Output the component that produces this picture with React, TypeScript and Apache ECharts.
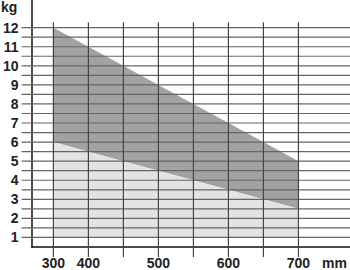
import React, { useEffect, useRef } from "react";
import * as echarts from "echarts";

// Data
const categories = ["300", "400", "450", "500", "550", "600", "650", "700"];
const upperValues = [12, 11, 10, 9, 8, 7, 6, 5];
const lowerValues = [6, 5.5, 5, 4.5, 4, 3.5, 3, 2.5];
const baseValue = 1;
const xLabelIndices = [0, 1, 3, 5, 7];
const yTickLabels = [1, 2, 3, 4, 5, 6, 7, 8, 9, 10, 11, 12];
const hGridValues = [1, 1.5, 2, 2.5, 3, 3.5, 4, 4.5, 5, 5.5, 6, 6.5, 7, 7.5, 8, 8.5, 9, 9.5, 10, 10.5, 11, 11.5, 12];
const vGridIndices = [0, 1, 2, 3, 4, 5, 6, 7];
const xUnit = "mm";
const yUnit = "kg";

const X_MIN = -0.6235;
const X_MAX = 8.473;
const Y_MIN = 0.5;
const Y_MAX = 13.45;
const V_TOP = 12.28;

const FONT = "'Liberation Sans', Arial, Helvetica, sans-serif";

export default function App() {
  const ref = useRef<HTMLDivElement>(null);
  useEffect(() => {
    if (!ref.current) return;
    const chart = echarts.init(ref.current, null, { renderer: "svg" });
    chart.setOption({
      animation: false,
      backgroundColor: "#ffffff",
      grid: { left: 29, right: 0, top: 0, bottom: 21, containLabel: false },
      xAxis: {
        type: "value",
        min: X_MIN,
        max: X_MAX,
        axisLine: { show: true, onZero: false, lineStyle: { color: "#111", width: 1.5 } },
        axisTick: { show: false },
        splitLine: { show: false },
        axisLabel: {
          customValues: xLabelIndices,
          formatter: (v: number) => categories[Math.round(v)] ?? "",
          margin: 9,
          fontSize: 14,
          fontWeight: "bold",
          fontFamily: FONT,
          color: "#222",
        },
      },
      yAxis: {
        type: "value",
        min: Y_MIN,
        max: Y_MAX,
        axisLine: { show: true, onZero: false, lineStyle: { color: "#111", width: 1.5 } },
        axisTick: { show: false },
        splitLine: { show: false },
        axisLabel: {
          customValues: yTickLabels,
          formatter: (v: number) => String(v),
          margin: 13,
          fontSize: 14,
          fontWeight: "bold",
          fontFamily: FONT,
          color: "#222",
        },
      },
      graphic: [
        {
          type: "text",
          left: 1,
          top: 0,
          style: { text: yUnit, fontSize: 14, fontWeight: "bold", fontFamily: FONT, fill: "#222" },
        },
        {
          type: "text",
          left: 322,
          top: 256,
          style: { text: xUnit, fontSize: 14, lineHeight: 14, fontWeight: "bold", fontFamily: FONT, fill: "#222" },
        },
      ],
      series: [
        {
          type: "custom",
          z: 1,
          silent: true,
          clip: false,
          data: [[0, 0]],
          renderItem: (_params: any, api: any) => {
            const upper = upperValues.map((v, i) => api.coord([i, v]));
            const lower = lowerValues.map((v, i) => api.coord([i, v]));
            const base = lowerValues.map((_v, i) => api.coord([i, baseValue]));
            return {
              type: "group",
              children: [
                {
                  type: "polygon",
                  shape: { points: [...upper, ...lower.slice().reverse()] },
                  style: { fill: "#a2a2a2", stroke: "none" },
                },
                {
                  type: "polygon",
                  shape: { points: [...lower, ...base.slice().reverse()] },
                  style: { fill: "#e3e3e3", stroke: "none" },
                },
              ],
            };
          },
        },
        {
          type: "custom",
          z: 3,
          silent: true,
          clip: false,
          data: [[0, 0]],
          renderItem: (_params: any, api: any) => {
            const children: any[] = [];
            hGridValues.forEach((v) => {
              const a = api.coord([X_MIN, v]);
              const b = api.coord([X_MAX, v]);
              children.push({
                type: "line",
                shape: { x1: a[0] - 10, y1: a[1], x2: b[0], y2: b[1] },
                style: { stroke: "#666", lineWidth: 1.2 },
              });
            });
            vGridIndices.forEach((i) => {
              const a = api.coord([i, V_TOP]);
              const b = api.coord([i, Y_MIN]);
              children.push({
                type: "line",
                shape: { x1: a[0], y1: a[1], x2: b[0], y2: b[1] + 10 },
                style: { stroke: "#444", lineWidth: 1.2 },
              });
            });
            return { type: "group", children };
          },
        },
      ],
    });
    return () => chart.dispose();
  }, []);
  return (
    <div
      ref={ref}
      style={{ position: "fixed", left: 0, top: 0, width: 350, height: 270, background: "#fff" }}
    />
  );
}
